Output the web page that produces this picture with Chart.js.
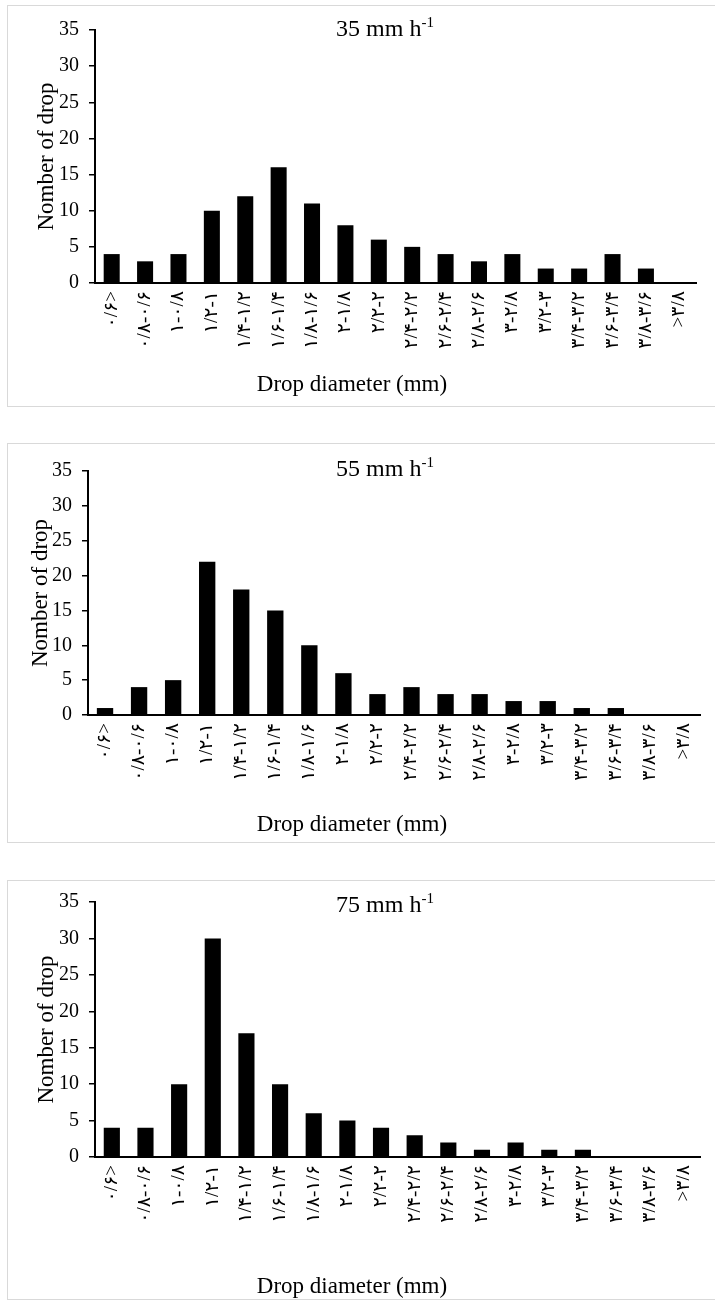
<!DOCTYPE html>
<html>
<head>
<meta charset="utf-8">
<script src="https://cdn.jsdelivr.net/npm/chart.js@4.4.1/dist/chart.umd.min.js"></script>
<style>
  body { margin: 0; background: #fff; width: 715px; height: 1307px; position: relative; overflow: hidden; }
  .box { position: absolute; left: 7px; width: 712px; border: 1px solid #d9d9d9; box-sizing: border-box; }
  canvas { position: absolute; left: 7px; }
</style>
</head>
<body>
<script>
// === DATOS ===
const categories = ['۰/۶>', '۰/۸-۰/۶', '۱-۰/۸', '۱/۲-۱', '۱/۴-۱/۲', '۱/۶-۱/۴', '۱/۸-۱/۶', '۲-۱/۸', '۲/۲-۲',
  '۲/۴-۲/۲', '۲/۶-۲/۴', '۲/۸-۲/۶', '۳-۲/۸', '۳/۲-۳', '۳/۴-۳/۲', '۳/۶-۳/۴', '۳/۸-۳/۶', '>۳/۸'];
const drops35 = [4, 3, 4, 10, 12, 16, 11, 8, 6, 5, 4, 3, 4, 2, 2, 4, 2, 0];
const drops55 = [1, 4, 5, 22, 18, 15, 10, 6, 3, 4, 3, 3, 2, 2, 1, 1, 0, 0];
const drops75 = [4, 4, 10, 30, 17, 10, 6, 5, 4, 3, 2, 1, 2, 1, 1, 0, 0, 0];
const rates = ['35', '55', '75'];
const yMax = 35, yStep = 5;
const yTitle = 'Nomber of drop';
const xTitle = 'Drop diameter (mm)';

// posiciones de cada panel (px de página)
const panels = [
  { data: drops35, rate: rates[0], top: 5,   h: 402, axisX: 95, plotTop: 30,  plotBottom: 283,  plotRight: 696, rateY: 30,  xTitleY: 385,  yTitleX: 47 },
  { data: drops55, rate: rates[1], top: 443, h: 400, axisX: 88, plotTop: 471, plotBottom: 715,  plotRight: 705, rateY: 470, xTitleY: 825,  yTitleX: 41 },
  { data: drops75, rate: rates[2], top: 880, h: 420, axisX: 95, plotTop: 898, plotBottom: 1157, plotRight: 703, rateY: 906, xTitleY: 1287, yTitleX: 47 }
];

const SERIF = '"Liberation Serif", "Times New Roman", "DejaVu Sans", serif';

// textos: velocidad arriba y título del eje x
const captions = {
  id: 'captions',
  afterDraw(chart, args, o) {
    const ctx = chart.ctx;
    ctx.save();
    ctx.fillStyle = '#000';
    ctx.textBaseline = 'middle';
    // "NN mm h-1"
    ctx.font = '24px ' + SERIF;
    const main = o.rate + ' mm h';
    const wMain = ctx.measureText(main).width;
    ctx.font = '15px ' + SERIF;
    const wSup = ctx.measureText('-1').width;
    const x = o.rateX - (wMain + wSup) / 2;
    ctx.textAlign = 'left';
    ctx.font = '24px ' + SERIF;
    ctx.fillText(main, x, o.rateY);
    ctx.font = '15px ' + SERIF;
    ctx.fillText('-1', x + wMain, o.rateY - 7);
    // eje x
    ctx.font = '23px ' + SERIF;
    ctx.textAlign = 'center';
    ctx.fillText(xTitle, o.xTitleX, o.xTitleY);
    ctx.restore();
  }
};

panels.forEach((p, i) => {
  const box = document.createElement('div');
  box.className = 'box';
  box.style.top = p.top + 'px';
  box.style.height = p.h + 'px';
  document.body.appendChild(box);

  const cv = document.createElement('canvas');
  cv.id = 'grafico' + i;
  cv.style.top = p.top + 'px';
  cv.style.width = '708px';
  cv.style.height = p.h + 'px';
  cv.width = 708;
  cv.height = p.h;
  document.body.appendChild(cv);

  new Chart(cv.getContext('2d'), {
    type: 'bar',
    data: {
      labels: categories,
      datasets: [{ data: p.data, backgroundColor: '#000', borderWidth: 0, categoryPercentage: 1, barPercentage: 0.48 }]
    },
    options: {
      responsive: false,
      animation: false,
      devicePixelRatio: 1,
      layout: { padding: { left: 0, top: p.plotTop - p.top, right: 715 - p.plotRight, bottom: 0 } },
      plugins: {
        legend: { display: false },
        tooltip: { enabled: false },
        captions: { rate: p.rate, rateX: 385 - 7, rateY: p.rateY - p.top, xTitleX: 352 - 7, xTitleY: p.xTitleY - p.top }
      },
      scales: {
        x: {
          grid: { display: false, drawTicks: false },
          border: { display: true, color: '#000', width: 2 },
          ticks: { color: '#000', font: { family: SERIF, size: 19 }, minRotation: 90, maxRotation: 90, autoSkip: false, padding: 8 },
          afterFit: s => { s.height = p.top + p.h - p.plotBottom; }
        },
        y: {
          min: 0, max: yMax,
          grid: { display: true, drawOnChartArea: false, drawTicks: true, tickLength: 6, color: '#000', lineWidth: 1.5 },
          border: { display: true, color: '#000', width: 2 },
          ticks: { stepSize: yStep, color: '#000', font: { family: SERIF, size: 20 }, padding: 10 },
          title: { display: true, text: yTitle, color: '#000', font: { family: SERIF, size: 23 }, padding: { top: p.yTitleX - 7 - 14, bottom: 0 } },
          afterFit: s => { s.width = p.axisX - 7; }
        }
      }
    },
    plugins: [captions]
  });
});
</script>
</body>
</html>
